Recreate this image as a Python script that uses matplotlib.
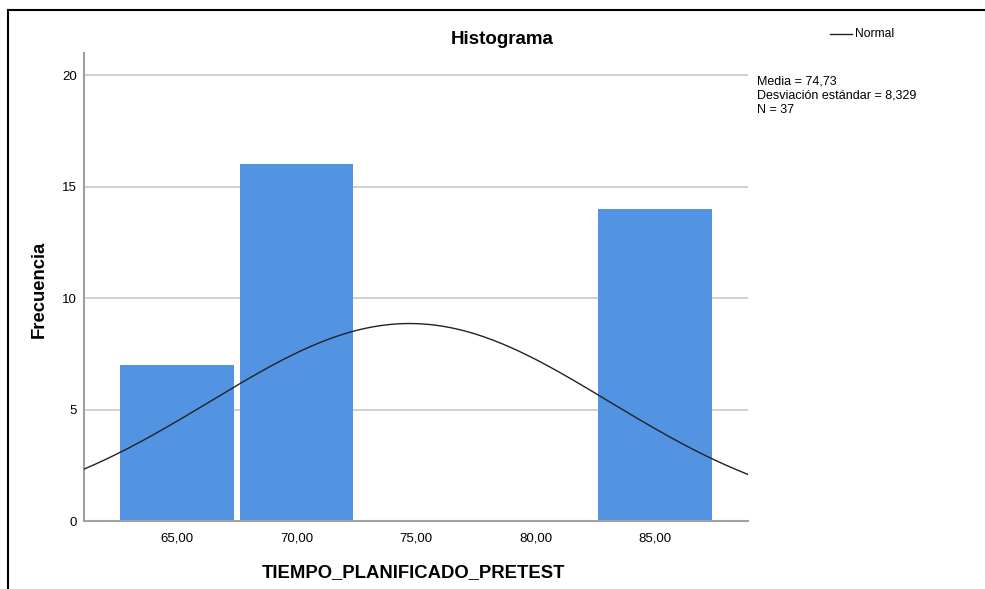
from matplotlib import pyplot as plt
from matplotlib.lines import Line2D
import numpy as np

plt.rcParams['font.family'] = ['Liberation Sans', 'DejaVu Sans']

# histogram data (bins of width 5)
bin_centers = [65, 70, 75, 80, 85]
counts = [7, 16, 0, 0, 14]
tick_labels = ['65,00', '70,00', '75,00', '80,00', '85,00']

# summary statistics shown in the chart
media = 74.73
desv = 8.329
n_obs = 37
bin_width = 5

fig = plt.figure(figsize=(9.85, 5.89), dpi=100)
ax = fig.add_axes([84/985, 1-521/589, (748-84)/985, (521-53)/589])

# outer frame (left and top lines only)
fig.add_artist(Line2D([8/985, 8/985], [0, 1-10/589], color='black', linewidth=1.5))
fig.add_artist(Line2D([8/985, 1], [1-10/589, 1-10/589], color='black', linewidth=1.5))

# gridlines
for yv in [5, 10, 15, 20]:
    ax.axhline(yv, color='#c8c8c8', linewidth=1.2, zorder=0)

ax.bar(bin_centers, counts, width=4.73, color='#5294e2', edgecolor='none', zorder=2)

# normal curve scaled to counts
xs = np.linspace(61.11, 88.89, 300)
ys = n_obs * bin_width / (desv * np.sqrt(2*np.pi)) * np.exp(-(xs - media)**2 / (2*desv**2))
ax.plot(xs, ys, color='#222222', linewidth=1.0, zorder=3)

ax.set_xlim(61.11, 88.89)
ax.set_ylim(0, 21)
ax.set_xticks(bin_centers)
ax.set_xticklabels(tick_labels, fontsize=9.5)
ax.set_yticks([0, 5, 10, 15, 20])
ax.set_yticklabels(['0', '5', '10', '15', '20'], fontsize=9.5)
ax.tick_params(axis='y', length=0, pad=5)
ax.tick_params(axis='x', length=0, pad=8)

for s in ['top', 'right']:
    ax.spines[s].set_visible(False)
for s in ['left', 'bottom']:
    ax.spines[s].set_color('#a0a0a0')
    ax.spines[s].set_linewidth(1.5)

# titles placed like the SPSS output
fig.text(502/985, 1-44/589, 'Histograma', fontsize=13.5, fontweight='bold',
         ha='center', va='baseline')
fig.text(414/985, 1-577/589, 'TIEMPO_PLANIFICADO_PRETEST', fontsize=13.3,
         fontweight='bold', ha='center', va='baseline')
fig.text(39/985, 1-289/589, 'Frecuencia', fontsize=13.3, fontweight='bold',
         rotation=90, ha='center', va='center')

# legend entry
fig.add_artist(Line2D([830/985, 852/985], [1-34/589, 1-34/589], color='#222222', linewidth=1.0))
fig.text(855/985, 1-34/589, 'Normal', fontsize=8.7, va='center', ha='left')

fig.text(757/985, 1-76/589,
         'Media = 74,73\nDesviación estándar = 8,329\nN = 37',
         fontsize=9, va='top', ha='left', linespacing=1.2)

plt.savefig('out.png', dpi=100)
